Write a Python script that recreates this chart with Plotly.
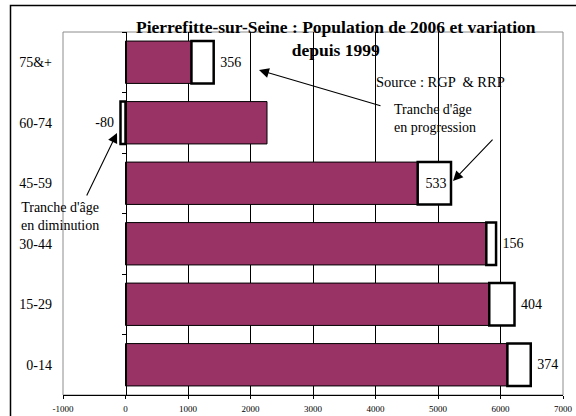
import plotly.graph_objects as go

# ---- data ----
age_groups = ["0-14", "15-29", "30-44", "45-59", "60-74", "75&+"]
pop_2006 = [6484, 6224, 5929, 5208, 2264, 1411]
variation = [374, 404, 156, 533, -80, 356]
x_ticks = [-1000, 0, 1000, 2000, 3000, 4000, 5000, 6000, 7000]
grid_ticks = [1000, 2000, 3000, 4000, 5000, 6000]

base = [p - max(v, 0) for p, v in zip(pop_2006, variation)]
labels = [f" {v}" if v >= 0 else f"{v} " for v in variation]
positions = ["inside" if v == max(variation) else "outside" for v in variation]

FONT = "Liberation Serif, Times New Roman, serif"

fig = go.Figure()
fig.add_trace(go.Bar(
    y=age_groups, x=base, orientation="h",
    marker=dict(color="#993366", line=dict(color="black", width=1)),
    hoverinfo="skip",
))
fig.add_trace(go.Bar(
    y=age_groups, x=variation, orientation="h",
    marker=dict(color="white", line=dict(color="black", width=2.5)),
    text=labels, textposition=positions, insidetextanchor="middle",
    textfont=dict(family=FONT, size=14, color="black"),
    insidetextfont=dict(family=FONT, size=14, color="black"),
    outsidetextfont=dict(family=FONT, size=14, color="black"),
    constraintext="none", cliponaxis=False,
    hoverinfo="skip",
))

n = len(age_groups)
bounds = [i - 0.5 for i in range(n + 1)]

fig.update_layout(
    width=576, height=416,
    margin=dict(l=63, r=13, t=32, b=21, autoexpand=False),
    paper_bgcolor="white", plot_bgcolor="white",
    barmode="relative", bargap=0.3, showlegend=False,
    font=dict(family=FONT, color="black"),
    xaxis=dict(range=[x_ticks[0], x_ticks[-1]], tickvals=x_ticks,
               ticktext=[str(v) for v in x_ticks],
               showgrid=False, zeroline=False, showline=True,
               linecolor="black", linewidth=1, ticks="outside", ticklen=3,
               tickcolor="black", tickfont=dict(size=9, family=FONT),
               ticklabelstandoff=2, automargin=False),
    xaxis2=dict(range=[x_ticks[0], x_ticks[-1]], overlaying="x", anchor="y",
                tickvals=grid_ticks, showgrid=True, gridcolor="black",
                gridwidth=1, showticklabels=False, ticks="", zeroline=False,
                showline=False, automargin=False),
    yaxis=dict(type="category", categoryorder="array", categoryarray=age_groups,
               showgrid=False, zeroline=False, showline=False, ticks="",
               tickfont=dict(size=14, family=FONT), ticklabelstandoff=10,
               automargin=False),
    yaxis2=dict(overlaying="y", anchor="free",
                position=(0 - x_ticks[0]) / (x_ticks[-1] - x_ticks[0]),
                range=[bounds[0], bounds[-1]], tickvals=bounds,
                ticks="outside", ticklen=4, tickcolor="black",
                showline=True, linecolor="black", linewidth=1,
                showticklabels=False, showgrid=False, zeroline=False,
                automargin=False),
)

# dummy invisible trace so overlay axes are drawn
fig.add_trace(go.Scatter(x=[None], y=[None], xaxis="x2", yaxis="y2",
                         mode="markers", hoverinfo="skip", showlegend=False))

# plot-area border (gray) and outer frame
fig.add_shape(type="rect", xref="paper", yref="paper", x0=0, x1=1, y0=0, y1=1,
              line=dict(color="#8c8c8c", width=1), layer="below")
fig.add_shape(type="rect", xref="paper", yref="paper", x0=-0.105, x1=1.1,
              y0=-0.12, y1=1.073, line=dict(color="black", width=1.5))

# title and texts
fig.add_annotation(xref="paper", yref="paper", x=0.545, y=0.981,
                   xanchor="center", yanchor="middle", showarrow=False,
                   text="<b>Pierrefitte-sur-Seine : Population de 2006 et variation<br>depuis 1999</b>",
                   font=dict(size=17.5, family=FONT, color="black"))
fig.add_annotation(xref="paper", yref="paper", x=0.754, y=0.863,
                   xanchor="center", yanchor="middle", showarrow=False,
                   text="Source : RGP  &amp; RRP",
                   font=dict(size=14.5, family=FONT, color="black"))
fig.add_annotation(xref="paper", yref="paper", x=0.658, y=0.763,
                   xanchor="left", yanchor="middle", showarrow=False, align="left",
                   text="Tranche d'âge<br>en progression",
                   font=dict(size=14, family=FONT, color="black"))
fig.add_annotation(xref="paper", yref="paper", x=-0.006, y=0.4906,
                   xanchor="center", yanchor="middle", showarrow=False, align="center",
                   text="Tranche d'âge<br>en diminution",
                   font=dict(size=14, family=FONT, color="black"))

# arrows
for hx, hy, ax, ay in [(0.392, 0.895, 123, 36), (0.78, 0.5895, 41, -43),
                       (0.108, 0.7218, -31, 64)]:
    fig.add_annotation(xref="paper", yref="paper", x=hx, y=hy, ax=ax, ay=ay,
                       text="", showarrow=True, arrowhead=2, arrowsize=1.8,
                       arrowwidth=1.1, arrowcolor="black")

fig.write_html("out.html", config={"displayModeBar": False},
               post_script="document.body.style.margin='0';document.body.style.overflow='hidden';")
